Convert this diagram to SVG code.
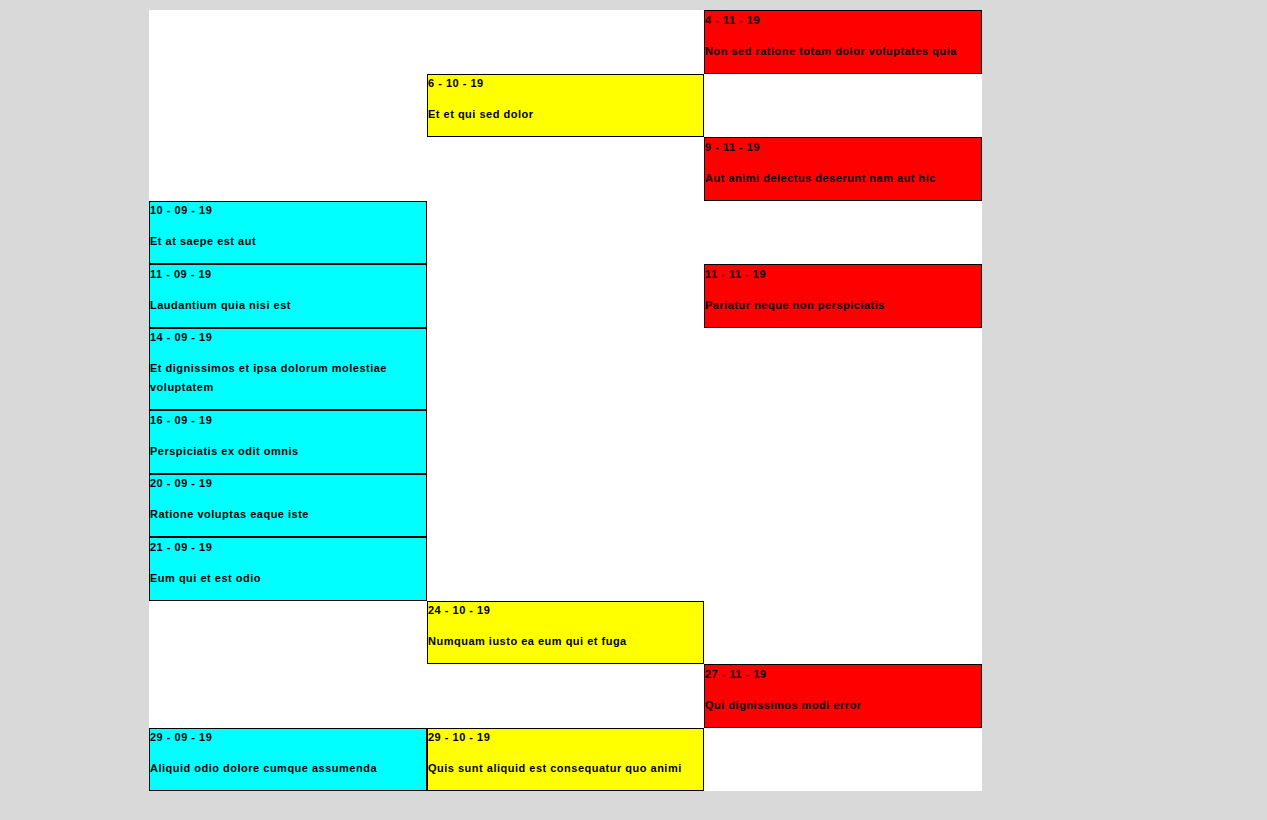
<svg xmlns="http://www.w3.org/2000/svg" width="1267" height="820" viewBox="0 0 1267 820">
<style>
text{font-family:"Liberation Sans",Arial,sans-serif;font-size:11px;font-weight:bold;letter-spacing:0.5px;fill:#000}
.box{stroke:#000;stroke-width:1}
.c{fill:#00ffff}
.y{fill:#ffff00}
.r{fill:#ff0000}
</style>
<rect x="0" y="0" width="1267" height="820" fill="#d9d9d9"/>
<rect x="149" y="10" width="833" height="781" fill="#ffffff"/>
<g id="connectors"/>
<g id="n-4-11-19"><rect class="box r" x="704.5" y="10.5" width="277" height="63"/><text x="705" y="24">4 - 11 - 19</text><text x="705" y="55">Non sed ratione totam dolor voluptates quia</text></g>
<g id="n-6-10-19"><rect class="box y" x="427.5" y="74.5" width="276" height="62"/><text x="428" y="87">6 - 10 - 19</text><text x="428" y="118">Et et qui sed dolor</text></g>
<g id="n-9-11-19"><rect class="box r" x="704.5" y="137.5" width="277" height="63"/><text x="705" y="151">9 - 11 - 19</text><text x="705" y="182">Aut animi delectus deserunt nam aut hic</text></g>
<g id="n-10-09-19"><rect class="box c" x="149.5" y="201.5" width="277" height="62"/><text x="150" y="214">10 - 09 - 19</text><text x="150" y="245">Et at saepe est aut</text></g>
<g id="n-11-09-19"><rect class="box c" x="149.5" y="264.5" width="277" height="63"/><text x="150" y="278">11 - 09 - 19</text><text x="150" y="309">Laudantium quia nisi est</text></g>
<g id="n-11-11-19"><rect class="box r" x="704.5" y="264.5" width="277" height="63"/><text x="705" y="278">11 - 11 - 19</text><text x="705" y="309">Pariatur neque non perspiciatis</text></g>
<g id="n-14-09-19"><rect class="box c" x="149.5" y="328.5" width="277" height="81"/><text x="150" y="341">14 - 09 - 19</text><text x="150" y="372">Et dignissimos et ipsa dolorum molestiae</text><text x="150" y="391">voluptatem</text></g>
<g id="n-16-09-19"><rect class="box c" x="149.5" y="410.5" width="277" height="63"/><text x="150" y="424">16 - 09 - 19</text><text x="150" y="455">Perspiciatis ex odit omnis</text></g>
<g id="n-20-09-19"><rect class="box c" x="149.5" y="474.5" width="277" height="62"/><text x="150" y="487">20 - 09 - 19</text><text x="150" y="518">Ratione voluptas eaque iste</text></g>
<g id="n-21-09-19"><rect class="box c" x="149.5" y="537.5" width="277" height="63"/><text x="150" y="551">21 - 09 - 19</text><text x="150" y="582">Eum qui et est odio</text></g>
<g id="n-24-10-19"><rect class="box y" x="427.5" y="601.5" width="276" height="62"/><text x="428" y="614">24 - 10 - 19</text><text x="428" y="645">Numquam iusto ea eum qui et fuga</text></g>
<g id="n-27-11-19"><rect class="box r" x="704.5" y="664.5" width="277" height="63"/><text x="705" y="678">27 - 11 - 19</text><text x="705" y="709">Qui dignissimos modi error</text></g>
<g id="n-29-09-19"><rect class="box c" x="149.5" y="728.5" width="277" height="62"/><text x="150" y="741">29 - 09 - 19</text><text x="150" y="772">Aliquid odio dolore cumque assumenda</text></g>
<g id="n-29-10-19"><rect class="box y" x="427.5" y="728.5" width="276" height="62"/><text x="428" y="741">29 - 10 - 19</text><text x="428" y="772">Quis sunt aliquid est consequatur quo animi</text></g>
</svg>
